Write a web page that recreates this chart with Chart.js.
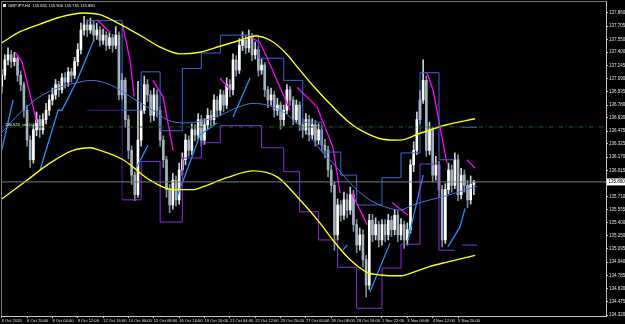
<!DOCTYPE html>
<html>
<head>
<meta charset="utf-8">
<script src="https://cdn.jsdelivr.net/npm/chart.js@4.4.0/dist/chart.umd.min.js"></script>
<style>
  html, body { margin: 0; padding: 0; background: #000; overflow: hidden; }
  canvas { display: block; }
</style>
</head>
<body>
<canvas id="grafico" width="625" height="324"></canvas>
<script>
// GBPJPY H4 candles (bar index 0 = left edge)
const open = [137.00,137.13,137.31,137.37,137.29,137.33,137.13,137.02,136.72,136.37,
  136.14,136.49,136.61,136.49,136.61,136.72,136.84,136.90,137.02,136.96,
  137.10,137.05,137.17,137.13,137.29,137.43,137.66,137.72,137.66,137.72,
  137.60,137.66,137.54,137.60,137.48,137.57,137.48,137.60,136.90,137.07,
  136.61,136.25,135.96,135.73,136.37,136.72,137.02,136.90,136.66,136.90,
  136.72,136.37,136.14,135.79,135.61,135.90,135.67,136.02,136.14,136.37,
  136.25,136.49,136.43,136.61,136.37,136.55,136.66,136.61,136.84,136.72,
  136.90,136.78,137.02,136.96,137.31,137.19,137.48,137.54,137.45,137.57,
  137.37,137.43,137.19,137.25,136.96,136.84,136.90,136.72,136.78,136.61,
  136.72,136.96,136.84,136.61,136.78,136.55,136.49,136.61,136.43,136.55,
  136.37,136.49,136.31,136.25,136.02,135.84,135.26,135.61,135.49,135.67,
  135.55,135.73,135.38,135.14,135.26,134.97,134.67,135.43,135.26,135.38,
  135.20,135.38,135.26,135.43,135.32,135.49,135.26,135.38,135.20,135.32,
  136.08,136.25,136.61,136.84,137.07,136.25,136.49,135.96,136.08,135.79,
  135.20,135.79,136.02,135.84,136.14,135.73,135.96,135.84,135.67,135.845];
const high = [137.20,137.37,137.45,137.42,137.40,137.36,137.18,137.05,136.78,136.42,
  136.55,136.70,136.66,136.68,136.80,136.90,136.98,137.08,137.06,137.15,
  137.16,137.22,137.21,137.34,137.50,137.74,137.82,137.78,137.80,137.76,
  137.74,137.70,137.67,137.64,137.63,137.61,137.70,137.64,137.15,137.10,
  136.66,136.30,136.00,137.06,136.80,137.12,137.08,136.95,136.98,136.96,
  136.76,136.42,136.18,135.85,135.98,135.95,136.10,136.22,136.44,136.42,
  136.56,136.55,136.68,136.66,136.62,136.74,136.72,136.90,136.88,136.96,
  136.95,137.10,137.08,137.38,137.36,137.56,137.64,137.60,137.66,137.62,
  137.52,137.47,137.32,137.28,137.00,136.98,136.94,136.86,136.82,136.78,
  137.02,137.00,136.88,136.84,136.82,136.62,136.68,136.66,136.62,136.60,
  136.56,136.54,136.38,136.30,136.08,135.88,135.68,135.66,135.76,135.74,
  135.82,135.78,135.44,135.34,135.32,135.02,135.50,135.50,135.46,135.42,
  135.44,135.44,135.50,135.48,135.56,135.54,135.45,135.42,135.40,136.14,
  136.35,136.70,136.95,137.31,137.12,136.58,136.52,136.18,136.12,135.84,
  135.86,136.10,136.08,136.22,136.20,136.04,136.02,135.90,135.95,135.90];
const low = [136.92,137.08,137.25,137.22,137.24,137.06,136.95,136.64,136.30,136.05,
  136.10,136.42,136.40,136.44,136.56,136.66,136.78,136.85,136.88,136.92,
  136.98,137.00,137.05,137.09,137.24,137.38,137.60,137.58,137.62,137.52,
  137.55,137.47,137.49,137.42,137.44,137.40,137.44,136.84,136.85,136.52,
  136.15,135.85,135.66,135.70,136.30,136.68,136.82,136.58,136.60,136.64,
  136.30,136.05,135.70,135.52,135.56,135.60,135.62,135.96,136.08,136.18,
  136.20,136.36,136.38,136.30,136.32,136.50,136.52,136.56,136.64,136.66,
  136.70,136.74,136.88,136.90,137.12,137.15,137.42,137.38,137.40,137.30,
  137.32,137.12,137.14,136.88,136.75,136.78,136.64,136.66,136.50,136.54,
  136.68,136.78,136.55,136.57,136.48,136.40,136.44,136.36,136.38,136.30,
  136.32,136.24,136.16,135.94,135.76,135.08,135.20,135.42,135.44,135.46,
  135.50,135.30,135.05,135.08,134.88,134.53,134.62,135.18,135.20,135.12,
  135.14,135.18,135.20,135.24,135.26,135.18,135.20,135.10,135.14,135.28,
  136.00,136.20,136.56,136.80,136.18,136.20,135.88,135.90,135.70,135.12,
  135.16,135.74,135.76,135.80,135.66,135.68,135.76,135.58,135.62,135.731];
const close = [137.13,137.31,137.37,137.29,137.33,137.13,137.02,136.72,136.37,136.14,
  136.49,136.61,136.49,136.61,136.72,136.84,136.90,137.02,136.96,137.10,
  137.05,137.17,137.13,137.29,137.43,137.66,137.72,137.66,137.72,137.60,
  137.66,137.54,137.60,137.48,137.57,137.48,137.60,136.90,137.07,136.61,
  136.25,135.96,135.73,136.37,136.72,137.02,136.90,136.66,136.90,136.72,
  136.37,136.14,135.79,135.61,135.90,135.67,136.02,136.14,136.37,136.25,
  136.49,136.43,136.61,136.37,136.55,136.66,136.61,136.84,136.72,136.90,
  136.78,137.02,136.96,137.31,137.19,137.48,137.54,137.45,137.57,137.37,
  137.43,137.19,137.25,136.96,136.84,136.90,136.72,136.78,136.61,136.72,
  136.96,136.84,136.61,136.78,136.55,136.49,136.61,136.43,136.55,136.37,
  136.49,136.31,136.25,136.02,135.84,135.26,135.61,135.49,135.67,135.55,
  135.73,135.38,135.14,135.26,134.97,134.67,135.43,135.26,135.38,135.20,
  135.38,135.26,135.43,135.32,135.49,135.26,135.38,135.20,135.32,136.08,
  136.25,136.61,136.84,137.07,136.25,136.49,135.96,136.08,135.79,135.20,
  135.79,136.02,135.84,136.14,135.73,135.96,135.84,135.67,135.85,135.88];

// indicators: [bar index, price]
const upperBand = [[0,137.51],[5.8,137.64],[12.1,137.73],[18.4,137.81],[25.7,137.86],[31,137.84],[37.3,137.73],
  [43.6,137.60],[50,137.46],[56.3,137.38],[62.6,137.40],[68.9,137.47],[75.2,137.54],[80,137.59],[84.7,137.54],
  [89.4,137.40],[94.1,137.19],[98.9,136.98],[104.5,136.76],[109.9,136.57],[113.1,136.49],[120.3,136.38],
  [125.7,136.37],[132,136.45],[140.5,136.55],[149.4,136.62]];
const lowerBand = [[0,135.68],[8,135.90],[15.2,136.10],[22.5,136.25],[27.9,136.28],[31,136.25],[38.3,136.14],
  [46.8,135.90],[54,135.79],[60.4,135.79],[62.6,135.81],[71.1,135.93],[79.3,136.01],[86.9,135.94],[94.1,135.67],
  [100.4,135.40],[104.5,135.20],[109.9,134.97],[115.3,134.82],[119.4,134.79],[125.7,134.78],[129.8,134.82],
  [135.2,134.89],[140.5,134.94],[149.4,135.02]];
const maLine = [[0,136.46],[5.8,136.69],[12.1,136.88],[18.4,136.99],[24.7,137.05],[27.9,137.07],[34.2,137.02],
  [41.4,136.86],[47.7,136.72],[52.2,136.61],[57.2,136.57],[62.6,136.59],[68.9,136.66],[74.2,136.75],[79.3,136.80],
  [83.7,136.78],[88.8,136.70],[93.2,136.57],[97.3,136.41],[101.4,136.22],[104.5,136.10],[109.9,135.87],
  [115.3,135.69],[119.4,135.61],[125.7,135.55],[129.8,135.61],[135.2,135.67],[140.5,135.72],[150,135.83]];
const cyanSegs = [
  [[0,136.25],[3.6,136.84]],
  [[12.1,136.02],[17.8,136.72],[19,136.72],[23.8,137.07],[28.8,137.52]],
  [[42.1,136.02],[46.2,136.31]],
  [[55.3,135.70],[62.6,136.43],[67.9,136.57]],
  [[73,136.64],[78.4,137.10]],
  [[107.7,135.08],[109,135.14]],
  [[116.2,134.59],[122.5,135.16]],
  [[128.2,135.20],[133,135.96]],
  [[140.8,135.12],[144.6,135.35],[146.2,135.57]]];
const magentaSegs = [
  [[4.2,137.40],[6.4,137.29],[9,136.90],[11.1,136.57]],
  [[30.1,137.78],[34.2,137.63]],
  [[38,137.74],[40.5,137.31],[41.8,136.88]],
  [[47.7,137.07],[50.9,136.88],[54.1,136.25]],
  [[68.9,137.10],[72,136.96]],
  [[79,137.57],[81.5,137.51],[83.7,137.34],[91,136.72]],
  [[93.2,136.99],[99.5,136.76],[104.5,136.29],[106.8,135.75]],
  [[110.5,135.75],[115.3,135.38]],
  [[123.2,135.64],[128.2,135.49]],
  [[134.2,137.16],[136.1,136.96],[140.5,136.10]],
  [[146.8,136.14],[149.4,136.04]]];
const blueSteps = [[[27,137.77],[38,136.72],[44,137.17],[50,136.48],[57,137.21],[63,137.39],[69,137.60],[81,137.33],
  [89,137.07],[95,136.58],[101,136.23],[107,135.96],[112,135.61],[120,135.93],[126,136.22],[132,137.16],[138,136.14],[143,136.14]],
  [[145.3,136.52],[150,136.52]]];
const purpleSteps = [[[27,136.72],[38,135.67],[44,136.12],[50,135.41],[57,136.16],[63,136.34],[69,136.54],[82,136.28],
  [89,136.00],[94,135.53],[100,135.20],[106,134.88],[112,134.40],[120,134.87],[126,135.15],[132,136.09],[138,135.08],[143,135.08]],
  [[145.3,135.14],[150,135.14]]];

const orderLevel = 136.524;
const currentPrice = 135.880;
const titleText = 'GBPJPY,H4  135.845 135.900 135.731 135.880';
const orderText = '136.524  sell 0.10';

const yTicks = [137.860,137.705,137.550,137.400,137.245,137.090,136.935,136.780,136.630,136.475,136.325,136.170,
  136.015,135.710,135.555,135.400,135.250,135.095,134.940,134.785,134.630,134.475,134.320];
const xTicks = [0,8,16,24,32,40,48,56,64,72,80,88,96,104,112,120,128,136,144];
const xLabels = ['6 Oct 2020','6 Oct 20:00','8 Oct 04:00','9 Oct 12:00','12 Oct 16:00','14 Oct 00:00','15 Oct 08:00',
  '16 Oct 16:00','19 Oct 20:00','21 Oct 04:00','22 Oct 12:00','23 Oct 20:00','27 Oct 00:00','28 Oct 08:00',
  '29 Oct 16:00','1 Nov 22:00','3 Nov 04:00','4 Nov 12:00','5 Nov 20:00'];

const pts = arr => arr.map(p => ({x: p[0], y: p[1]}));
const joinSegs = segs => segs.flatMap((s, k) => k ? [{x: s[0][0] - 0.01, y: null}, ...pts(s)] : pts(s));

const bull = close.map((c, i) => c >= open[i]);
const wickData = close.map((c, i) => ({x: i, y: [low[i], high[i]]}));
const bodyData = close.map((c, i) => ({x: i, y: [open[i], c]}));

const lineDs = (data, color, width, extra) => Object.assign({
  type: 'line', data: data, borderColor: color, borderWidth: width, pointRadius: 0, fill: false, order: 0
}, extra || {});

const overlay = {
  id: 'overlay',
  afterDraw(chart) {
    const c = chart.ctx, a = chart.chartArea, ys = chart.scales.y;
    c.save();
    c.strokeStyle = '#7c7c7c';
    c.lineWidth = 1;
    c.beginPath();
    c.moveTo(a.left + 0.5, a.bottom);
    c.lineTo(a.left + 0.5, a.top + 0.5);
    c.lineTo(a.right, a.top + 0.5);
    c.stroke();
    c.font = '4.1px "Liberation Sans"';
    c.textBaseline = 'middle';
    c.fillStyle = '#e8e8e8';
    c.fillRect(3, 4, 3, 3);
    c.fillText(titleText, 8, 5.5);
    c.fillText(orderText, 5, ys.getPixelForValue(orderLevel) - 2.5);
    c.font = '4.5px "Liberation Sans"';
    const py = ys.getPixelForValue(currentPrice);
    c.fillStyle = '#ffffff';
    c.fillRect(a.right + 1, py - 3.5, 18, 7);
    c.fillStyle = '#000000';
    c.fillText(currentPrice.toFixed(3), a.right + 2.5, py + 0.3);
    c.restore();
  }
};

const ctx = document.getElementById('grafico');

const grafico = new Chart(ctx, {
  type: 'bar',
  data: {
    datasets: [
      lineDs([{x: -1, y: orderLevel}, {x: 200, y: orderLevel}], '#1c5e1c', 1, {borderDash: [5, 2, 1, 2]}),
      lineDs([{x: -1, y: currentPrice}, {x: 200, y: currentPrice}], '#6f7d8b', 1),
      lineDs(pts(upperBand), '#ffff00', 1.4, {cubicInterpolationMode: 'monotone'}),
      lineDs(pts(lowerBand), '#ffff00', 1.4, {cubicInterpolationMode: 'monotone'}),
      lineDs(pts(maLine), '#3f78e0', 1, {cubicInterpolationMode: 'monotone'}),
      lineDs(joinSegs(blueSteps), '#3d66d6', 1, {stepped: true}),
      lineDs(joinSegs(purpleSteps), '#8a2be2', 1, {
        stepped: true,
        segment: { borderColor: s => s.p0DataIndex === 0 ? '#4f1a8c' : undefined }
      }),
      lineDs(joinSegs(cyanSegs), '#1e90ff', 1.3),
      lineDs(joinSegs(magentaSegs), '#ff00ff', 1.3),
      {
        type: 'bar', data: bodyData, grouped: false, barThickness: 2, minBarLength: 1, order: 2,
        backgroundColor: bull.map(b => b ? '#ffffff' : '#a3b1c0')
      },
      {
        type: 'bar', data: wickData, grouped: false, barThickness: 1, order: 3,
        backgroundColor: bull.map(b => b ? '#c9cfd6' : '#7f8d9c')
      }
    ]
  },
  options: {
    responsive: false,
    animation: false,
    events: [],
    layout: { padding: { top: 1, left: 1, right: 0, bottom: 0 } },
    plugins: { legend: { display: false }, tooltip: { enabled: false } },
    scales: {
      x: {
        type: 'linear', min: -0.22, max: 190.7, offset: false,
        afterBuildTicks: ax => { ax.ticks = xTicks.map(v => ({value: v})); },
        afterFit: ax => { ax.height = 8; ax.paddingLeft = 0; ax.paddingRight = 0; },
        ticks: {
          autoSkip: false, maxRotation: 0, minRotation: 0, align: 'start', padding: 0.5,
          color: '#e0e0e0', font: { family: 'Liberation Sans', size: 4.1 },
          callback: (v, i) => xLabels[i]
        },
        grid: { drawOnChartArea: false, offset: false, tickLength: 2, color: '#c4c4c4' },
        border: { color: '#c4c4c4' }
      },
      y: {
        position: 'right', min: 134.309, max: 138.0,
        afterBuildTicks: ax => { ax.ticks = yTicks.map(v => ({value: v})); },
        afterFit: ax => { ax.width = 19; ax.paddingTop = 0; ax.paddingBottom = 0; },
        ticks: {
          padding: 1, color: '#e0e0e0', font: { family: 'Liberation Sans', size: 4.5 },
          callback: v => v.toFixed(3)
        },
        grid: { drawOnChartArea: false, tickLength: 2, color: '#c4c4c4' },
        border: { color: '#c4c4c4' }
      }
    }
  },
  plugins: [overlay]
});
</script>
</body>
</html>
